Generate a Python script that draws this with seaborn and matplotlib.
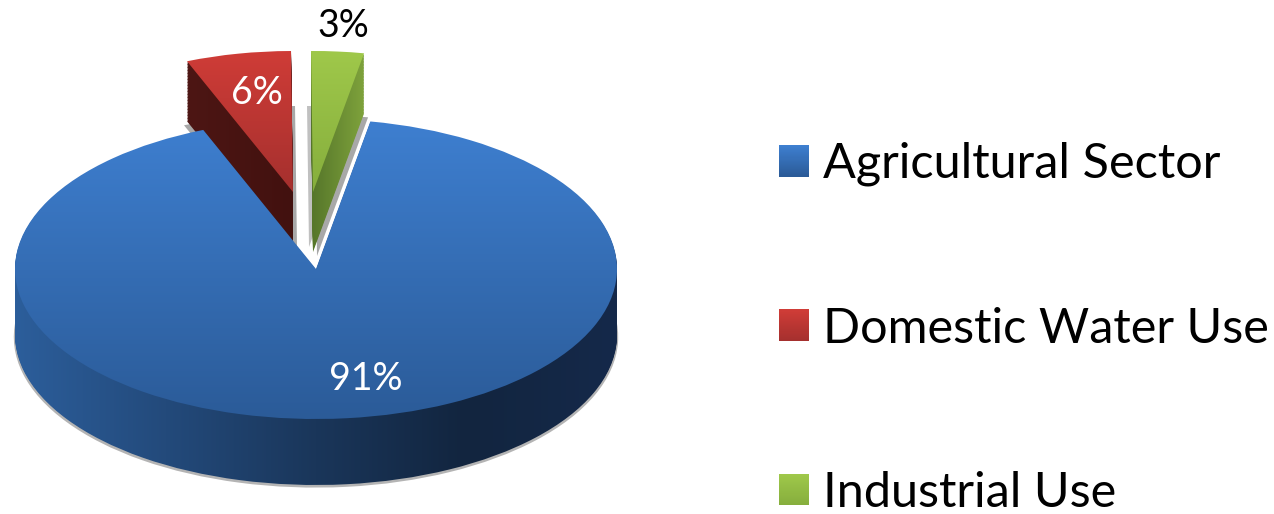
import numpy as np
import seaborn as sns
import matplotlib.pyplot as plt
from matplotlib.legend_handler import HandlerPatch
from matplotlib.patches import Rectangle

sectors = ['Agricultural Sector', 'Domestic Water Use', 'Industrial Use']
shares = [91, 6, 3]

# figure size in px, the pie is laid out in px and squashed to an ellipse
W, H = 1274, 514
RX, RY = 301, 150
CX, CY = 316, 269
START = 79.6

sns.set_theme(style='white')
plt.rcParams['font.family'] = ['Lato', 'DejaVu Sans']

blue_top = sns.blend_palette(['#3e7fd0', '#2b5b98'], 256, as_cmap=True)
blue_side = sns.blend_palette(['#2c5e9b', '#234a7b', '#1a365a', '#12253f', '#15294a'], 256, as_cmap=True)
red_top = sns.blend_palette(['#cf3c37', '#a5302e'], 256, as_cmap=True)
red_side = sns.blend_palette(['#4d1614', '#42110f'], 256, as_cmap=True)
green_top = sns.blend_palette(['#9fc84a', '#86ae3d'], 256, as_cmap=True)
green_side = sns.blend_palette(['#55752a', '#7fa33c'], 256, as_cmap=True)


def to_x(px):
    return (px - CX) / RX


def to_y(py):
    return (CY - py) / RY


def one_wedge(ax, i, cx, cy, radius, color='none', z=1):
    wedges, _ = ax.pie(shares, startangle=START, counterclock=False, radius=radius,
                       center=(to_x(cx), to_y(cy)), colors=[color] * 3,
                       wedgeprops={'linewidth': 0, 'zorder': z})
    for j, w in enumerate(wedges):
        if j != i:
            w.remove()
    return wedges[i]


def paint(ax, wedge, cmap, z, vertical=True, extent=None):
    if extent is None:
        b = wedge.get_path().get_extents()
        extent = (b.x0, b.x1, b.y0, b.y1)
    grad = np.linspace(0, 1, 256)
    grad = grad[:, None] if vertical else grad[None, :]
    im = ax.imshow(grad, cmap=cmap, extent=extent, aspect='auto', origin='upper', zorder=z)
    im.set_clip_path(wedge)


def solid(ax, i, cx, cy, radius, depth, top, side, z):
    # side is stacked copies of the wedge going down, top face goes last
    for d in np.arange(depth, 0, -1.5):
        w = one_wedge(ax, i, cx, cy + d, radius, z=z)
        paint(ax, w, side, z, vertical=False)
    w = one_wedge(ax, i, cx, cy, radius, z=z + 1)
    paint(ax, w, top, z + 1)
    return w


class GradSquare(HandlerPatch):
    def __init__(self, cmap):
        super().__init__()
        self.cmap = cmap

    def create_artists(self, legend, orig_handle, xdescent, ydescent, width, height, fontsize, trans):
        n = 30
        out = []
        for k in range(n):
            out.append(Rectangle((-xdescent, -ydescent + height * (n - k - 1) / n), width, height / n + 0.2,
                                 facecolor=self.cmap(k / (n - 1)), linewidth=0, transform=trans))
        return out


fig = plt.figure(figsize=(W / 100, H / 100), dpi=100)
ax = fig.add_axes([0, 0, 1, 1])

# soft shadows
one_wedge(ax, 1, 297, 247, 0.94, color='#a8a8a8', z=1)
one_wedge(ax, 2, 309, 247, 0.94, color='#c0c0c0', z=1)
one_wedge(ax, 2, 317, 256, 0.94, color='#a8a8a8', z=1)
one_wedge(ax, 1, 290, 256, 0.94, color='#a8a8a8', z=1)

red = solid(ax, 1, 293, 192, 0.94, 60, red_top, red_side, 2)
green = solid(ax, 2, 313, 192, 0.94, 60, green_top, green_side, 2)

# main slice
one_wedge(ax, 0, CX, CY + 68, 1.004, color='#b4b4b4', z=3)
for d in np.arange(66, 0, -1.0):
    w = one_wedge(ax, 0, CX, CY + d, 1, z=4)
    paint(ax, w, blue_side, 4, vertical=False, extent=(-1, 1, -1.6, 1))
blue = one_wedge(ax, 0, CX, CY, 1, z=5)
paint(ax, blue, blue_top, 5)

ax.set_aspect('auto')
ax.set_xlim(to_x(0), to_x(W))
ax.set_ylim(to_y(H), to_y(0))
ax.axis('off')

ax.text(to_x(366), to_y(379), f'{shares[0]}%', color='white', fontsize=27, ha='center', va='center', zorder=9)
ax.text(to_x(257), to_y(93), f'{shares[1]}%', color='white', fontsize=27, ha='center', va='center', zorder=9)
ax.text(to_x(343), to_y(26), f'{shares[2]}%', color='black', fontsize=27, ha='center', va='center', zorder=9)

leg = ax.legend([blue, red, green], sectors,
                handler_map={blue: GradSquare(blue_top), red: GradSquare(red_top), green: GradSquare(green_top)},
                loc='upper left', bbox_to_anchor=(779 / W, 1 - 142 / H), bbox_transform=fig.transFigure,
                frameon=False, fontsize=35, labelcolor='black', borderpad=0, borderaxespad=0,
                handlelength=0.62, handleheight=0.62, handletextpad=0.28, labelspacing=2.47)

fig.savefig('out.png', dpi=100)
